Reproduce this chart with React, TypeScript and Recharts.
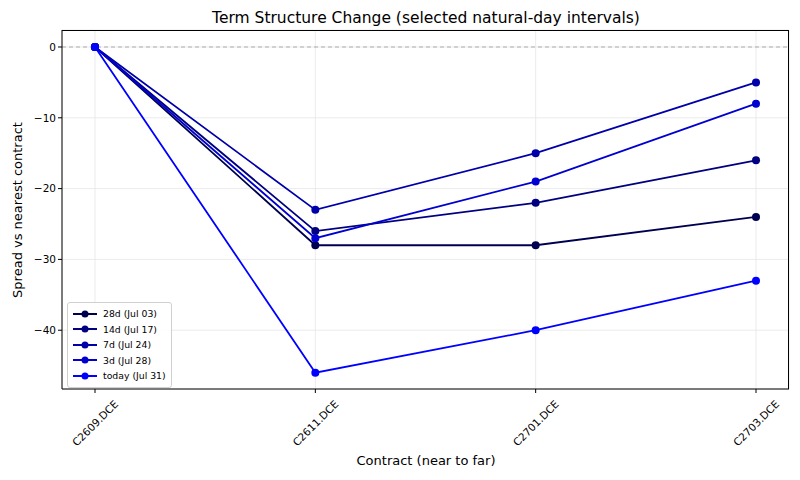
import { LineChart, Line, XAxis, YAxis, CartesianGrid, ReferenceLine } from "recharts";

const contracts = ["C2609.DCE", "C2611.DCE", "C2701.DCE", "C2703.DCE"];

const seriesNames = ["28d (Jul 03)", "14d (Jul 17)", "7d (Jul 24)", "3d (Jul 28)", "today (Jul 31)"];
const seriesColors = ["#000050", "#000080", "#0000aa", "#0000d0", "#0000ff"];

const spread28d = [0, -28, -28, -24];
const spread14d = [0, -26, -22, -16];
const spread7d = [0, -23, -15, -5];
const spread3d = [0, -27, -19, -8];
const spreadToday = [0, -46, -40, -33];

const yTicks = [-40, -30, -20, -10, 0];

const allSeries = [spread28d, spread14d, spread7d, spread3d, spreadToday];

const data = contracts.map((c, i) => {
  const row: Record<string, string | number> = { contract: c };
  allSeries.forEach((s, k) => {
    row[seriesNames[k]] = s[i];
  });
  return row;
});

const font = "DejaVu Sans, sans-serif";

// rotated x tick labels, centred under the tick like matplotlib rotation=45
function RotatedTick(props: any) {
  const { x, y, payload } = props;
  return (
    <text
      x={0}
      y={0}
      transform={`translate(${x},${y + 28}) rotate(-45)`}
      textAnchor="middle"
      dominantBaseline="central"
      fontSize={10.5}
      fontFamily={font}
      fill="#000"
    >
      {payload.value}
    </text>
  );
}

function LegendBox() {
  return (
    <div
      style={{
        position: "absolute",
        left: 67,
        top: 302,
        border: "1px solid #d0d0d0",
        borderRadius: 3,
        background: "rgba(255,255,255,0.85)",
        padding: "3px 5px",
        fontFamily: font,
        fontSize: 9.3,
        lineHeight: "15.5px",
      }}
    >
      {seriesNames.map((name, i) => (
        <div key={name} style={{ display: "flex", alignItems: "center" }}>
          <svg width={24} height={10} style={{ marginRight: 6 }}>
            <line x1={0} y1={5} x2={24} y2={5} stroke={seriesColors[i]} strokeWidth={2} />
            <circle cx={12} cy={5} r={3.5} fill={seriesColors[i]} />
          </svg>
          <span>{name}</span>
        </div>
      ))}
    </div>
  );
}

export default function App() {
  return (
    <div style={{ position: "absolute", left: 0, top: 0, width: 800, height: 480, background: "#fff" }}>
      <LineChart width={800} height={480} data={data} margin={{ top: 30, right: 11, bottom: 0, left: 0 }}>
        <text x={426} y={23} textAnchor="middle" fontSize={15.5} fontFamily={font} fill="#000">
          Term Structure Change (selected natural-day intervals)
        </text>
        <text x={426} y={465} textAnchor="middle" fontSize={13} fontFamily={font} fill="#000">
          Contract (near to far)
        </text>
        <text
          x={0}
          y={0}
          transform="translate(22,210) rotate(-90)"
          textAnchor="middle"
          fontSize={13}
          fontFamily={font}
          fill="#000"
        >
          Spread vs nearest contract
        </text>
        <CartesianGrid stroke="#e6e6e6" strokeWidth={0.8} />
        <XAxis
          dataKey="contract"
          padding={{ left: 33, right: 33 }}
          tick={<RotatedTick />}
          tickSize={4}
          stroke="#000"
          interval={0}
          height={91}
        />
        <YAxis
          width={62}
          domain={[-48.3, 2.4]}
          ticks={yTicks}
          allowDataOverflow
          tickSize={4}
          stroke="#000"
          tick={{ fontSize: 10.5, fontFamily: font, fill: "#000" }}
          tickFormatter={(v: number) => String(v).replace("-", "\u2212")}
        />
        <ReferenceLine y={0} stroke="#999" strokeDasharray="4 3" strokeWidth={0.8} />
        {seriesNames.map((name, i) => (
          <Line
            key={name}
            dataKey={name}
            stroke={seriesColors[i]}
            strokeWidth={1.8}
            dot={{ r: 4, fill: seriesColors[i], stroke: seriesColors[i], strokeWidth: 0 }}
            activeDot={false}
            isAnimationActive={false}
          />
        ))}
      </LineChart>
      {/* axes frame (top/right spines) */}
      <div
        style={{
          position: "absolute",
          left: 62,
          top: 30,
          width: 727,
          height: 359,
          borderTop: "1px solid #000",
          borderRight: "1px solid #000",
          boxSizing: "border-box",
          pointerEvents: "none",
        }}
      />
      <LegendBox />
    </div>
  );
}
